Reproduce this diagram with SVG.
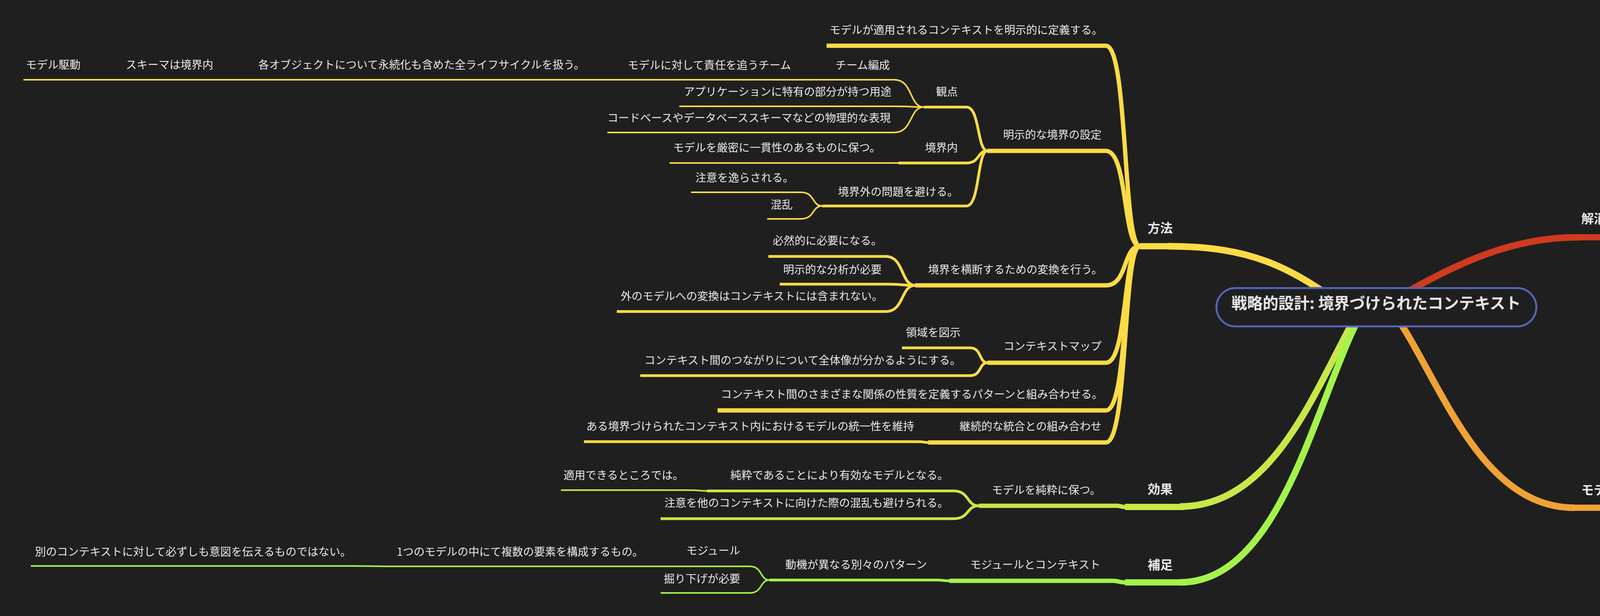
<svg xmlns="http://www.w3.org/2000/svg" width="7304" height="1576" viewBox="0 0 7304 1576">
<style>
text{font-family:"Noto Sans CJK JP","Noto Sans",sans-serif;fill:#e6e6e6;font-size:28px}
.b{font-weight:bold;font-size:32px}
.e{text-anchor:end}
path{fill:none;stroke-linecap:butt}
.r{stroke:#cf3a20}.o{stroke:#f0a235}.y{stroke:#fcdb46}.g{stroke:#c7e846}.h{stroke:#a3f34b}
.w0{stroke-width:17}.w1{stroke-width:16}.w2{stroke-width:11}.w3{stroke-width:7}.w4{stroke-width:4}
</style>
<rect x="0" y="0" width="7304" height="1576" fill="#1f1f1f"/>
<g id="connectors">
<path class="r w0" d="M3560 770 C3720 680 3860 607 4040 607"/>
<path class="o w0" d="M3560 790 C3680 950 3780 1299 4030 1299"/>
<path class="y w0" d="M3450 790 C3300 680 3200 630 2990 630"/>
<path class="g w0" d="M3500 760 C3380 950 3280 1296 3020 1296"/>
<path class="h w0" d="M3510 760 C3380 950 3300 1490 3020 1490"/>
<path class="r w2" d="M4260 607 C4303 607 4290 301 4347 301"/>
<path class="r w2" d="M4260 607 C4303 607 4290 754 4347 754"/>
<path class="r w3" d="M5301 301 C5342 301 5330 191 5383 191"/>
<path class="r w3" d="M5301 301 C5342 301 5330 263 5383 263"/>
<path class="r w3" d="M5301 301 C5342 301 5330 335 5383 335"/>
<path class="r w3" d="M5301 301 C5342 301 5330 407 5383 407"/>
<path class="r w3" d="M5101 754 C5142 754 5130 609 5184 609"/>
<path class="r w3" d="M5101 754 C5142 754 5130 900 5184 900"/>
<path class="r w4" d="M5428 609 C5449 609 5443 607 5470 607"/>
<path class="r w4" d="M5997 607 C6042 607 6028 499 6087 499"/>
<path class="r w4" d="M5997 607 C6042 607 6028 640 6087 640"/>
<path class="r w4" d="M6339 640 C6384 640 6371 573 6430 573"/>
<path class="r w4" d="M6339 640 C6384 640 6371 641 6430 641"/>
<path class="r w4" d="M6339 640 C6384 640 6371 709 6430 709"/>
<path class="r w4" d="M5329 900 C5371 900 5358 786 5413 786"/>
<path class="r w4" d="M5329 900 C5371 900 5358 854 5413 854"/>
<path class="r w4" d="M5329 900 C5371 900 5358 962 5413 962"/>
<path class="r w4" d="M5490 962 C5537 962 5523 928 5585 928"/>
<path class="r w4" d="M5490 962 C5537 962 5523 996 5585 996"/>
<path class="o w2" d="M4905 1299 C4940 1299 4930 1142 4976 1142"/>
<path class="o w2" d="M4905 1299 C4940 1299 4930 1224 4976 1224"/>
<path class="o w2" d="M4905 1299 C4940 1299 4930 1375 4976 1375"/>
<path class="o w3" d="M5680 1142 C5725 1142 5711 1140 5770 1140"/>
<path class="o w4" d="M5855 1140 C5897 1140 5885 1138 5940 1138"/>
<path class="o w3" d="M5800 1375 L5880 1375"/>
<path class="o w4" d="M6520 1375 C6560 1375 6548 1373 6600 1373"/>
<path class="o w4" d="M6850 1373 C6897 1373 6883 1304 6945 1304"/>
<path class="o w4" d="M6850 1373 L6945 1373"/>
<path class="o w4" d="M6850 1373 C6897 1373 6883 1440 6945 1440"/>
<path class="y w2" d="M2918 630 C2874 630 2888 117 2831 117"/>
<path class="y w2" d="M2918 630 C2874 630 2888 386 2831 386"/>
<path class="y w2" d="M2918 630 C2874 630 2888 730 2831 730"/>
<path class="y w2" d="M2918 630 C2874 630 2888 928 2831 928"/>
<path class="y w2" d="M2918 630 C2874 630 2888 1050 2831 1050"/>
<path class="y w2" d="M2918 630 C2874 630 2888 1132 2831 1132"/>
<path class="y w3" d="M2528 386 C2501 386 2509 274 2474 274"/>
<path class="y w3" d="M2528 386 C2501 386 2509 417 2474 417"/>
<path class="y w3" d="M2528 386 C2501 386 2509 527 2474 527"/>
<path class="y w4" d="M2365 274 C2327 274 2338 204 2289 204"/>
<path class="y w4" d="M2365 274 C2327 274 2338 272 2289 272"/>
<path class="y w4" d="M2365 274 C2327 274 2338 339 2289 339"/>
<path class="y w4" d="M2132 204 L2034 204"/>
<path class="y w4" d="M1601 204 L1503 204"/>
<path class="y w4" d="M653 204 L553 204"/>
<path class="y w4" d="M315 204 L215 204"/>
<path class="y w4" d="M2300 417 L2270 417"/>
<path class="y w4" d="M2105 527 C2078 527 2086 492 2051 492"/>
<path class="y w4" d="M2105 527 C2078 527 2086 560 2051 560"/>
<path class="y w3" d="M2343 730 C2305 730 2316 656 2267 656"/>
<path class="y w3" d="M2343 730 C2305 730 2316 727 2267 727"/>
<path class="y w3" d="M2343 730 C2305 730 2316 797 2267 797"/>
<path class="y w3" d="M2528 928 C2506 928 2513 890 2484 890"/>
<path class="y w3" d="M2528 928 C2506 928 2513 961 2484 961"/>
<path class="y w3" d="M2376 1132 C2363 1132 2367 1130 2350 1130"/>
<path class="g w2" d="M2880 1297 C2872 1297 2866 1294 2860 1294"/>
<path class="g w3" d="M2506 1294 C2473 1294 2483 1256 2441 1256"/>
<path class="g w3" d="M2506 1294 C2473 1294 2483 1327 2441 1327"/>
<path class="g w4" d="M1810 1256 C1790 1256 1795 1254 1760 1254"/>
<path class="h w2" d="M2880 1490 C2868 1490 2860 1486 2850 1486"/>
<path class="h w3" d="M2430 1486 C2418 1486 2412 1484 2400 1484"/>
<path class="h w4" d="M1970 1484 C1945 1484 1952 1449 1920 1449"/>
<path class="h w4" d="M1970 1484 C1945 1484 1952 1517 1920 1517"/>
<path class="h w4" d="M1747 1449 L1649 1449"/>
<path class="h w4" d="M1003 1449 C960 1449 950 1448 904 1448"/>
</g>
<g id="root">
<rect x="3114" y="737" width="819" height="98" rx="49" fill="#1f1f1f" stroke="#5363b8" stroke-width="5"/>
<text x="3523" y="790" text-anchor="middle" font-size="40" font-weight="bold" style="font-size:40px">戦略的設計: 境界づけられたコンテキスト</text>
</g>
<g id="n-r0"><text class="b" x="4048" y="571">解消する問題</text><path class="r w1" d="M4030 607 H4260"/></g>
<g id="n-r1"><text x="4357" y="270">別々のモデルに基づくコードの組み合わせに起因するソフトウェアの問題</text><path class="r w2" d="M4347 301 H5301"/></g>
<g id="n-r11"><text x="5395" y="162">バグの温床</text><path class="r w3" d="M5383 191 H5542"/></g>
<g id="n-r12"><text x="5395" y="235">信頼性の欠如</text><path class="r w3" d="M5383 263 H5571"/></g>
<g id="n-r13"><text x="5395" y="307">理解しづらさ</text><path class="r w3" d="M5383 335 H5571"/></g>
<g id="n-r14"><text x="5395" y="378">コミュニケーションが混乱</text><path class="r w3" d="M5383 407 H5736"/></g>
<g id="n-r2"><text x="4357" y="722">別々のモデルの要素を組み合わせた場合に生じるパターン</text><path class="r w2" d="M4347 754 H5101"/></g>
<g id="n-r21"><text x="5196" y="581">重複した概念</text><path class="r w3" d="M5184 609 H5428"/></g>
<g id="n-r211"><text x="5479" y="581">同じ概念を表すモデル要素が複数ある。</text><path class="r w4" d="M5470 607 H5997"/></g>
<g id="n-r2111"><text x="6097" y="474">付随する実装も同様</text><path class="r w4" d="M6087 499 H6358"/></g>
<g id="n-r2112"><text x="6097" y="614">必要になること。</text><path class="r w4" d="M6087 640 H6339"/></g>
<g id="n-r21121"><text x="6438" y="547">モデルが変更されるたびに複数箇所を変更する。</text><path class="r w4" d="M6430 573 H7060"/></g>
<g id="n-r21122"><text x="6438" y="614">同じことを実行するために複数のことを考える。</text><path class="r w4" d="M6430 641 H7060"/></g>
<g id="n-r21123"><text x="6438" y="682">同期させる。</text><path class="r w4" d="M6430 709 H6613"/></g>
<g id="n-r22"><text x="5196" y="873">偽同族語</text><path class="r w3" d="M5184 900 H5329"/></g>
<g id="n-r221"><text x="5424" y="772">false cognate</text><path class="r w4" d="M5413 786 H5598"/></g>
<g id="n-r222"><text x="5424" y="828">同じ用語やオブジェクトを使いながら異なるものごとを扱う。</text><path class="r w4" d="M5413 854 H6214"/></g>
<g id="n-r223"><text x="5424" y="936">影響</text><path class="r w4" d="M5413 962 H5490"/></g>
<g id="n-r2231"><text x="5596" y="902">実装における矛盾</text><path class="r w4" d="M5585 928 H5826"/></g>
<g id="n-r2232"><text x="5596" y="970">コミュニケーションの混乱</text><path class="r w4" d="M5585 996 H5937"/></g>
<g id="n-o0"><text class="b" x="4048" y="1265">モデルが適用されるのはあるコンテキストの中において。</text><path class="o w1" d="M4020 1299 H4905"/></g>
<g id="n-o1"><text x="4991" y="1111">モデルを適用できる範囲を明示的に定義、制限する。</text><path class="o w2" d="M4976 1142 H5680"/></g>
<g id="n-o11"><text x="5778" y="1112">範囲</text><path class="o w3" d="M5770 1140 H5855"/></g>
<g id="n-o111"><text x="5949" y="1112">あるソフトウェアシステムにおける境界づけられた部分</text><path class="o w4" d="M5940 1138 H6654"/></g>
<g id="n-o2"><text x="4991" y="1195">統一性を保つ。</text><path class="o w2" d="M4976 1224 H5195"/></g>
<g id="n-o3"><text x="4991" y="1345">境界の外に対して適用できるかどうかは気にする必要がない。</text><path class="o w2" d="M4976 1375 H5800"/></g>
<g id="n-o31"><text x="5890" y="1345">他のコンテキストでは他のモデルが適用される。</text><path class="o w3" d="M5880 1375 H6520"/></g>
<g id="n-o311"><text x="6618" y="1345">各点にて異なる。</text><path class="o w4" d="M6600 1373 H6850"/></g>
<g id="n-o3111"><text x="6957" y="1279">用語法</text><path class="o w4" d="M6945 1304 H7049"/></g>
<g id="n-o3112"><text x="6957" y="1345">概念とルール</text><path class="o w4" d="M6945 1373 H7132"/></g>
<g id="n-o3113"><text x="6957" y="1415">ユビキタス言語の方言</text><path class="o w4" d="M6945 1440 H7244"/></g>
<g id="n-y0"><text class="b e" x="3002" y="595">方法</text><path class="y w1" d="M2918 630 H3000"/></g>
<g id="n-y1"><text class="e" x="2823" y="87">モデルが適用されるコンテキストを明示的に定義する。</text><path class="y w2" d="M2116 117 H2831"/></g>
<g id="n-y2"><text class="e" x="2820" y="355">明示的な境界の設定</text><path class="y w2" d="M2528 386 H2831"/></g>
<g id="n-y21"><text class="e" x="2452" y="245">観点</text><path class="y w3" d="M2365 274 H2474"/></g>
<g id="n-y211"><text class="e" x="2278" y="177">チーム編成</text><path class="y w4" d="M2132 204 H2289"/></g>
<g id="n-y2111"><text class="e" x="2025" y="177">モデルに対して責任を追うチーム</text><path class="y w4" d="M1601 204 H2034"/></g>
<g id="n-y21111"><text class="e" x="1497" y="176">各オブジェクトについて永続化も含めた全ライフサイクルを扱う。</text><path class="y w4" d="M653 204 H1503"/></g>
<g id="n-y211111"><text class="e" x="546" y="176">スキーマは境界内</text><path class="y w4" d="M315 204 H553"/></g>
<g id="n-y2111111"><text class="e" x="206" y="176">モデル駆動</text><path class="y w4" d="M60 204 H215"/></g>
<g id="n-y212"><text class="e" x="2282" y="245">アプリケーションに特有の部分が持つ用途</text><path class="y w4" d="M1739 272 H2289"/></g>
<g id="n-y213"><text class="e" x="2280" y="312">コードベースやデータベーススキーマなどの物理的な表現</text><path class="y w4" d="M1555 339 H2289"/></g>
<g id="n-y22"><text class="e" x="2452" y="388">境界内</text><path class="y w3" d="M2300 417 H2474"/></g>
<g id="n-y221"><text class="e" x="2254" y="388">モデルを厳密に一貫性のあるものに保つ。</text><path class="y w4" d="M1714 417 H2270"/></g>
<g id="n-y23"><text class="e" x="2453" y="501">境界外の問題を避ける。</text><path class="y w3" d="M2105 527 H2474"/></g>
<g id="n-y231"><text class="e" x="2032" y="465">注意を逸らされる。</text><path class="y w4" d="M1769 492 H2051"/></g>
<g id="n-y232"><text class="e" x="2029" y="534">混乱</text><path class="y w4" d="M1964 560 H2051"/></g>
<g id="n-y3"><text class="e" x="2822" y="700">境界を横断するための変換を行う。</text><path class="y w2" d="M2343 730 H2831"/></g>
<g id="n-y31"><text class="e" x="2258" y="626">必然的に必要になる。</text><path class="y w3" d="M1967 656 H2267"/></g>
<g id="n-y32"><text class="e" x="2257" y="700">明示的な分析が必要</text><path class="y w3" d="M1996 727 H2267"/></g>
<g id="n-y33"><text class="e" x="2260" y="768">外のモデルへの変換はコンテキストには含まれない。</text><path class="y w3" d="M1579 797 H2267"/></g>
<g id="n-y4"><text class="e" x="2820" y="896">コンテキストマップ</text><path class="y w2" d="M2528 928 H2831"/></g>
<g id="n-y41"><text class="e" x="2459" y="861">領域を図示</text><path class="y w3" d="M2309 890 H2484"/></g>
<g id="n-y42"><text class="e" x="2460" y="932">コンテキスト間のつながりについて全体像が分かるようにする。</text><path class="y w3" d="M1639 961 H2484"/></g>
<g id="n-y5"><text class="e" x="2823" y="1019">コンテキスト間のさまざまな関係の性質を定義するパターンと組み合わせる。</text><path class="y w2" d="M1837 1050 H2831"/></g>
<g id="n-y6"><text class="e" x="2820" y="1101">継続的な統合との組み合わせ</text><path class="y w2" d="M2376 1132 H2831"/></g>
<g id="n-y61"><text class="e" x="2340" y="1101">ある境界づけられたコンテキスト内におけるモデルの統一性を維持</text><path class="y w3" d="M1495 1130 H2350"/></g>
<g id="n-g0"><text class="b e" x="3002" y="1263">効果</text><path class="g w1" d="M2880 1297 H3030"/></g>
<g id="n-g1"><text class="e" x="2818" y="1264">モデルを純粋に保つ。</text><path class="g w2" d="M2506 1294 H2860"/></g>
<g id="n-g11"><text class="e" x="2428" y="1226">純粋であることにより有効なモデルとなる。</text><path class="g w3" d="M1810 1256 H2441"/></g>
<g id="n-g111"><text class="e" x="1750" y="1226">適用できるところでは。</text><path class="g w4" d="M1436 1254 H1760"/></g>
<g id="n-g12"><text class="e" x="2428" y="1297">注意を他のコンテキストに向けた際の混乱も避けられる。</text><path class="g w3" d="M1691 1327 H2441"/></g>
<g id="n-h0"><text class="b e" x="3002" y="1457">補足</text><path class="h w1" d="M2880 1490 H3030"/></g>
<g id="n-h1"><text class="e" x="2817" y="1455">モジュールとコンテキスト</text><path class="h w2" d="M2430 1486 H2850"/></g>
<g id="n-h11"><text class="e" x="2373" y="1455">動機が異なる別々のパターン</text><path class="h w3" d="M1970 1484 H2400"/></g>
<g id="n-h111"><text class="e" x="1895" y="1419">モジュール</text><path class="h w4" d="M1747 1449 H1920"/></g>
<g id="n-h1111"><text class="e" x="1647" y="1422">1つのモデルの中にて複数の要素を構成するもの。</text><path class="h w4" d="M1003 1449 H1649"/></g>
<g id="n-h11111"><text class="e" x="899" y="1422">別のコンテキストに対して必ずしも意図を伝えるものではない。</text><path class="h w4" d="M79 1448 H904"/></g>
<g id="n-h112"><text class="e" x="1895" y="1491">掘り下げが必要</text><path class="h w4" d="M1691 1517 H1920"/></g>
</svg>
